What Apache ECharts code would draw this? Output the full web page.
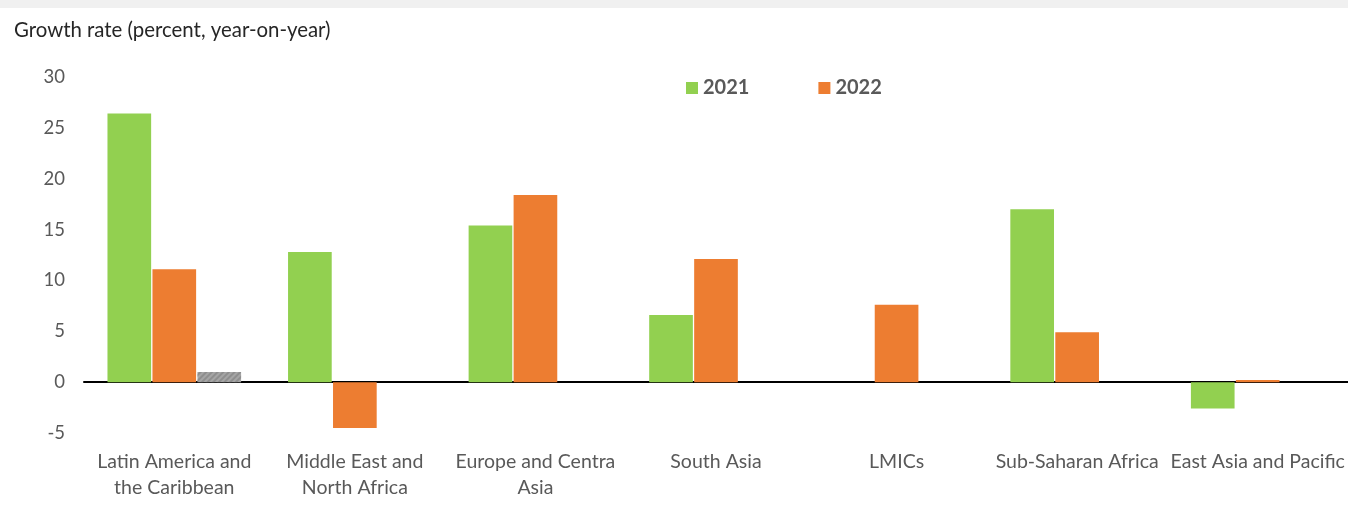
<!DOCTYPE html>
<html>
<head>
<meta charset="utf-8">
<script src="https://cdn.jsdelivr.net/npm/echarts@6/dist/echarts.min.js"></script>
<style>
  html, body { margin: 0; padding: 0; background: #ffffff; }
  #chart { width: 1348px; height: 508px; }
</style>
</head>
<body>
<div id="chart"></div>
<script>
// Regions on the category axis
const categories = [
  'Latin America and\nthe Caribbean',
  'Middle East and\nNorth Africa',
  'Europe and Centra\nAsia',
  'South Asia',
  'LMICs',
  'Sub-Saharan Africa',
  'East Asia and Pacific'
];

// Year-on-year growth rates, percent
const growth2021 = [26.4, 12.8, 15.4, 6.6, null, 17.0, -2.6];
const growth2022 = [11.1, -4.5, 18.4, 12.1, 7.6, 4.9, 0.2];
const growthOther = [1.0, null, null, null, null, null, null];

const yTicks = { min: -5, max: 30, interval: 5 };

const FONT = 'Lato, "Open Sans", sans-serif';
const chart = echarts.init(document.getElementById('chart'), null, { renderer: 'canvas' });

chart.setOption({
  animation: false,
  backgroundColor: '#ffffff',
  graphic: [
    { type: 'rect', left: 0, top: 0, shape: { width: 1348, height: 8 }, style: { fill: '#f0f0f0' } },
    { type: 'text', left: 14, top: 20,
      style: { text: 'Growth rate (percent, year-on-year)', font: '20.4px ' + FONT, fill: '#262626' } }
  ],
  legend: {
    data: ['2021', '2022'],
    left: 681, top: 73,
    itemWidth: 12, itemHeight: 12, itemGap: 69,
    icon: 'rect',
    textStyle: { fontFamily: FONT, fontSize: 20, fontWeight: 'bold', color: '#595959', padding: [0, 0, 0, 0] }
  },
  grid: { left: 84, right: 0, top: 77, bottom: 75, containLabel: false },
  xAxis: {
    type: 'category',
    data: categories,
    axisLine: { onZero: true, lineStyle: { color: '#000000', width: 2 } },
    axisTick: { show: false },
    axisLabel: {
      interval: 0, fontFamily: FONT, fontSize: 19.5, color: '#595959',
      lineHeight: 26, margin: 16
    }
  },
  yAxis: {
    type: 'value',
    min: yTicks.min, max: yTicks.max, interval: yTicks.interval,
    splitLine: { show: false },
    axisLine: { show: false },
    axisTick: { show: false },
    axisLabel: { fontFamily: FONT, fontSize: 18.5, color: '#595959', margin: 19 }
  },
  series: [
    { name: '2021', type: 'bar', data: growth2021, barGap: '3%', barCategoryGap: '26%',
      itemStyle: { color: '#92d050' } },
    { name: '2022', type: 'bar', data: growth2022, barGap: '3%', barCategoryGap: '26%',
      itemStyle: { color: '#ed7d31' } },
    { name: 'Other', type: 'bar', data: growthOther, barGap: '3%', barCategoryGap: '26%',
      itemStyle: { color: '#a5a5a5',
        decal: { symbol: 'rect', dashArrayX: [1, 0], dashArrayY: [2, 2], rotation: -0.785, color: 'rgba(120,120,120,0.5)' } } }
  ]
});
</script>
</body>
</html>
